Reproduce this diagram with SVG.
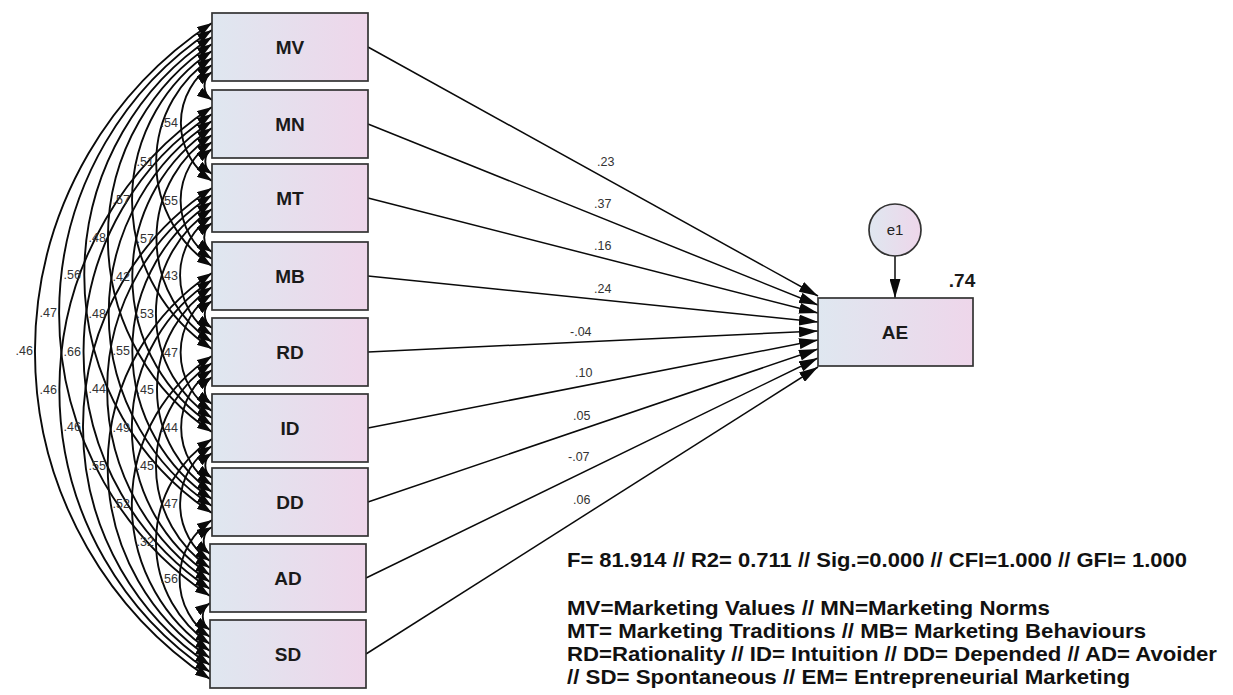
<svg xmlns="http://www.w3.org/2000/svg" width="1233" height="695" viewBox="0 0 1233 695">
<defs>
<linearGradient id="gb" x1="0" y1="0" x2="1" y2="0">
<stop offset="0" stop-color="#dfe7f0"/>
<stop offset="1" stop-color="#eed6ea"/>
</linearGradient>
<marker id="ca" viewBox="0 0 15 10" refX="15" refY="5" markerWidth="15" markerHeight="10" markerUnits="userSpaceOnUse" orient="auto-start-reverse">
<path d="M0,0 L15,5 L0,10 z" fill="#0a0a0a"/>
</marker>
<marker id="ra" viewBox="0 0 19 11" refX="19" refY="5.5" markerWidth="19" markerHeight="11" markerUnits="userSpaceOnUse" orient="auto">
<path d="M0,0 L19,5.5 L0,11 z" fill="#0a0a0a"/>
</marker>
</defs>
<style>
.box{fill:url(#gb);stroke:#333;stroke-width:1.7}
.nl{font-family:"Liberation Sans",Arial,sans-serif;font-weight:bold;font-size:19px;text-anchor:middle;fill:#1a1a1a}
.cov{fill:none;stroke:#0a0a0a;stroke-width:1.9;marker-start:url(#ca);marker-end:url(#ca)}
.reg{fill:none;stroke:#0a0a0a;stroke-width:1.5;marker-end:url(#ra)}
.lb{font-family:"Liberation Sans",Arial,sans-serif;font-size:12.5px;fill:#333}
.cl{text-anchor:end}
.ft{font-family:"Liberation Sans Narrow","Arial Narrow","Liberation Sans",Arial,sans-serif;font-weight:bold;font-size:21px;fill:#111}
</style>
<rect width="1233" height="695" fill="#fff"/>
<g id="connectors">
<g id="covariances">
<path class="cov" d="M212,72 A16.8,16.8 0 0 0 212,100"/>
<path class="cov" d="M212,149 A15,15 0 0 0 212,174"/>
<path class="cov" d="M212,223 A17.4,17.4 0 0 0 212,252"/>
<path class="cov" d="M212,301 A16.2,16.2 0 0 0 212,328"/>
<path class="cov" d="M212,377 A16.2,16.2 0 0 0 212,404"/>
<path class="cov" d="M212,453 A15,15 0 0 0 212,478"/>
<path class="cov" d="M212,527 A16.2,16.2 0 0 0 210,554"/>
<path class="cov" d="M210,603 A16.2,16.2 0 0 0 210,630"/>
<path class="cov" d="M212,65 A69.6,69.6 0 0 0 212,181"/>
<path class="cov" d="M212,142 A70.2,70.2 0 0 0 212,259"/>
<path class="cov" d="M212,216 A71.4,71.4 0 0 0 212,335"/>
<path class="cov" d="M212,294 A70.2,70.2 0 0 0 212,411"/>
<path class="cov" d="M212,370 A69,69 0 0 0 212,485"/>
<path class="cov" d="M212,446 A69,69 0 0 0 210,561"/>
<path class="cov" d="M212,520 A70.2,70.2 0 0 0 210,637"/>
<path class="cov" d="M212,58 A124.8,124.8 0 0 0 212,266"/>
<path class="cov" d="M212,135 A124.2,124.2 0 0 0 212,342"/>
<path class="cov" d="M212,209 A125.4,125.4 0 0 0 212,418"/>
<path class="cov" d="M212,287 A123,123 0 0 0 212,492"/>
<path class="cov" d="M212,363 A123,123 0 0 0 210,568"/>
<path class="cov" d="M212,439 A123,123 0 0 0 210,644"/>
<path class="cov" d="M212,51 A178.8,178.8 0 0 0 212,349"/>
<path class="cov" d="M212,128 A178.2,178.2 0 0 0 212,425"/>
<path class="cov" d="M212,202 A178.2,178.2 0 0 0 212,499"/>
<path class="cov" d="M212,280 A177,177 0 0 0 210,575"/>
<path class="cov" d="M212,356 A177,177 0 0 0 210,651"/>
<path class="cov" d="M212,44 A232.8,232.8 0 0 0 212,432"/>
<path class="cov" d="M212,121 A231,231 0 0 0 212,506"/>
<path class="cov" d="M212,195 A232.2,232.2 0 0 0 210,582"/>
<path class="cov" d="M212,273 A231,231 0 0 0 210,658"/>
<path class="cov" d="M212,37 A285.6,285.6 0 0 0 212,513"/>
<path class="cov" d="M212,114 A285,285 0 0 0 210,589"/>
<path class="cov" d="M212,188 A286.2,286.2 0 0 0 210,665"/>
<path class="cov" d="M212,30 A339.6,339.6 0 0 0 210,596"/>
<path class="cov" d="M212,107 A339,339 0 0 0 210,672"/>
<path class="cov" d="M212,23 A393.6,393.6 0 0 0 210,679"/>
</g>
<g id="cov-labels" class="lb cl">
<text x="178" y="127">.54</text>
<text x="178" y="204.5">.55</text>
<text x="178" y="279.5">.43</text>
<text x="178" y="356.5">.47</text>
<text x="178" y="431.5">.44</text>
<text x="178" y="507.5">.47</text>
<text x="178" y="582.5">.56</text>
<text x="154" y="166">.51</text>
<text x="154" y="242.5">.57</text>
<text x="154" y="317.5">.53</text>
<text x="154" y="393.5">.45</text>
<text x="154" y="469.5">.45</text>
<text x="154" y="545.5">.32</text>
<text x="130" y="204">.57</text>
<text x="130" y="280.5">.42</text>
<text x="130" y="354.5">.55</text>
<text x="130" y="431.5">.49</text>
<text x="130" y="507.5">.52</text>
<text x="106" y="242">.48</text>
<text x="106" y="317.5">.48</text>
<text x="106" y="392.5">.44</text>
<text x="106" y="469.5">.55</text>
<text x="81" y="279">.56</text>
<text x="81" y="355.5">.66</text>
<text x="81" y="430.5">.46</text>
<text x="57" y="317">.47</text>
<text x="57" y="393.5">.46</text>
<text x="33" y="355">.46</text>
</g>
<g id="paths">
<line class="reg" x1="368" y1="47" x2="818" y2="296"/>
<line class="reg" x1="368" y1="124" x2="818" y2="305"/>
<line class="reg" x1="368" y1="198" x2="818" y2="313"/>
<line class="reg" x1="368" y1="276" x2="818" y2="322"/>
<line class="reg" x1="368" y1="352" x2="818" y2="331"/>
<line class="reg" x1="368" y1="428" x2="818" y2="340"/>
<line class="reg" x1="368" y1="502" x2="818" y2="349"/>
<line class="reg" x1="366" y1="578" x2="818" y2="358"/>
<line class="reg" x1="366" y1="654" x2="818" y2="367"/>
<line class="reg" x1="895" y1="256" x2="895" y2="298"/>
</g>
<g id="path-labels" class="lb">
<text x="597" y="166">.23</text>
<text x="594" y="208">.37</text>
<text x="594" y="250">.16</text>
<text x="594" y="293">.24</text>
<text x="570" y="336">-.04</text>
<text x="575" y="377">.10</text>
<text x="573" y="420">.05</text>
<text x="568" y="461">-.07</text>
<text x="573" y="504">.06</text>
</g>
</g>
<g id="node-MV"><rect class="box" x="212" y="13" width="156" height="68"/><text class="nl" x="290" y="54">MV</text></g>
<g id="node-MN"><rect class="box" x="212" y="90" width="156" height="68"/><text class="nl" x="290" y="131">MN</text></g>
<g id="node-MT"><rect class="box" x="212" y="164" width="156" height="68"/><text class="nl" x="290" y="205">MT</text></g>
<g id="node-MB"><rect class="box" x="212" y="242" width="156" height="68"/><text class="nl" x="290" y="283">MB</text></g>
<g id="node-RD"><rect class="box" x="212" y="318" width="156" height="68"/><text class="nl" x="290" y="359">RD</text></g>
<g id="node-ID"><rect class="box" x="212" y="394" width="156" height="68"/><text class="nl" x="290" y="435">ID</text></g>
<g id="node-DD"><rect class="box" x="212" y="468" width="156" height="68"/><text class="nl" x="290" y="509">DD</text></g>
<g id="node-AD"><rect class="box" x="210" y="544" width="156" height="68"/><text class="nl" x="288" y="585">AD</text></g>
<g id="node-SD"><rect class="box" x="210" y="620" width="156" height="68"/><text class="nl" x="288" y="661">SD</text></g>
<g id="node-AE"><rect class="box" x="818" y="298" width="155" height="68"/><text class="nl" x="895" y="339">AE</text><text class="nl" x="962" y="287">.74</text></g>
<g id="node-e1"><circle cx="895" cy="230" r="26" fill="url(#gb)" stroke="#333" stroke-width="1.7"/><text x="895" y="235" text-anchor="middle" font-family="Liberation Sans, Arial, sans-serif" font-size="15" fill="#222">e1</text></g>
<g id="notes" class="ft">
<text x="567" y="567" textLength="620" lengthAdjust="spacingAndGlyphs">F= 81.914 // R2= 0.711 // Sig.=0.000 // CFI=1.000 // GFI= 1.000</text>
<text x="567" y="615" textLength="483" lengthAdjust="spacingAndGlyphs">MV=Marketing Values // MN=Marketing Norms</text>
<text x="567" y="638" textLength="579" lengthAdjust="spacingAndGlyphs">MT= Marketing Traditions // MB= Marketing Behaviours</text>
<text x="567" y="661" textLength="650" lengthAdjust="spacingAndGlyphs">RD=Rationality // ID= Intuition // DD= Depended // AD= Avoider</text>
<text x="567" y="684" textLength="563" lengthAdjust="spacingAndGlyphs">// SD= Spontaneous // EM= Entrepreneurial Marketing</text>
</g>
</svg>
